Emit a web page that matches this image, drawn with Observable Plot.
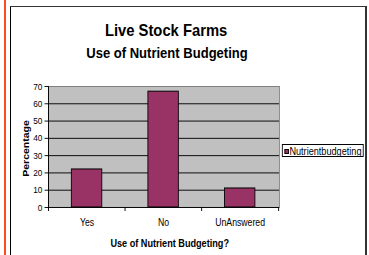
<!DOCTYPE html>
<html>
<head>
<meta charset="utf-8">
<script src="https://cdn.jsdelivr.net/npm/d3@7"></script>
<script src="https://cdn.jsdelivr.net/npm/@observablehq/plot@0.6"></script>
<style>
  html, body { margin: 0; padding: 0; background: #fff; }
  #page { position: relative; width: 369px; height: 255px; overflow: hidden; font-family: "Liberation Sans", Arial, sans-serif; }
  .deco { position: absolute; }
  #chart { position: absolute; left: 0; top: 0; transform-origin: 0 0; }
  #legend { position: absolute; box-sizing: border-box; border: 1px solid #000; background: #fff; font-size: 10.5px; line-height: 11px; color: #000; white-space: nowrap; }
  #legend .sw { position: absolute; width: 5.5px; height: 5px; box-sizing: border-box; border: 1px solid #000; }
  #legend .lb { position: absolute; }
</style>
</head>
<body>
<div id="page">
  <div class="deco" style="left:4px;top:0;width:2px;height:255px;background:#ff4b1f;"></div>
  <div class="deco" style="left:10px;top:6px;width:1px;height:249px;background:#000;"></div>
  <div class="deco" style="left:10px;top:6px;width:357px;height:1px;background:#333;"></div>
  <div class="deco" style="left:365px;top:6px;width:2px;height:249px;background:#333;"></div>
  <div id="chart"></div>
</div>
<script>
// ---- data ----
const categories = ["Yes", "No", "UnAnswered"];
const values = [22, 67, 11];
const seriesName = "Nutrientbudgeting";
const yTicks = [0, 10, 20, 30, 40, 50, 60, 70];
const title = "Live Stock Farms";
const subtitle = "Use of Nutrient Budgeting";
const xLabel = "Use of Nutrient Budgeting?";
const yLabel = "Percentage";
const barColor = "#993366";

// ---- layout (the reference is horizontally condensed) ----
const sx = 0.87;
const W = 369 / sx;
const mL = 48 / sx, mR = W - 279 / sx, mT = 86, mB = 255 - 207;
const step = (W - mL - mR) / categories.length;

const data = categories.map((c, i) => ({category: c, value: values[i]}));

const font = '"Liberation Sans", Arial, sans-serif';

const plot = Plot.plot({
  width: W,
  height: 255,
  marginLeft: mL,
  marginRight: mR,
  marginTop: mT,
  marginBottom: mB,
  style: {fontFamily: font, fontSize: "9.5px", color: "#000", background: "transparent", overflow: "visible"},
  x: {domain: categories, paddingInner: 0.6, paddingOuter: 0.3, label: null},
  y: {domain: [0, 70], label: null},
  marks: [
    Plot.frame({fill: "#c0c0c0", stroke: "#808080"}),
    Plot.gridY(yTicks.filter(d => d > 0 && d < 70), {stroke: "#000", strokeOpacity: 1}),
    Plot.barY(data, {x: "category", y: "value", fill: barColor, stroke: "#000", strokeWidth: 1}),
    Plot.ruleY([0], {stroke: "#000"}),
    // left axis line
    Plot.ruleX(categories.slice(0, 1), {x: d => d, dx: -step / 2, stroke: "#000"}),
    // category boundary ticks below the axis
    Plot.ruleX(categories, {x: d => d, dx: -step / 2, y1: 0, y2: 0, insetBottom: -4, stroke: "#000"}),
    Plot.ruleX(categories.slice(-1), {x: d => d, dx: step / 2, y1: 0, y2: 0, insetBottom: -4, stroke: "#000"}),
    Plot.axisY(yTicks, {tickSize: 4, tickPadding: 3, fontSize: "9.5px", stroke: "#000", label: null}),
    Plot.axisX({tickSize: 0, tickPadding: 11, fontSize: "10px", label: null}),
    Plot.text([title], {text: d => d, frameAnchor: "top", lineAnchor: "middle", textAnchor: "middle", dx: 2.5, dy: -56.4, fontSize: "17px", fontWeight: "bold", fill: "#000"}),
    Plot.text([subtitle], {text: d => d, frameAnchor: "top", lineAnchor: "middle", textAnchor: "middle", dx: 3.5, dy: -33.5, fontSize: "15px", fontWeight: "bold", fill: "#000"}),
    Plot.text([xLabel], {text: d => d, frameAnchor: "bottom", lineAnchor: "middle", textAnchor: "middle", dx: 6.6, dy: 36, fontSize: "10.5px", fontWeight: "bold", fill: "#000"}),
    Plot.text([yLabel], {text: d => d, frameAnchor: "left", lineAnchor: "middle", textAnchor: "middle", rotate: -90, dx: -26, dy: 1.5, fontSize: "10.5px", fontWeight: "bold", fill: "#000"})
  ]
});

const chart = document.getElementById("chart");
chart.style.width = W + "px";
chart.style.transform = `scaleX(${sx})`;
chart.appendChild(plot);

// legend (HTML, in the same condensed space)
const lg = document.createElement("div");
lg.id = "legend";
lg.style.left = (282 / sx) + "px";
lg.style.top = "144px";
lg.style.width = ((363.5 - 282) / sx) + "px";
lg.style.height = "13px";
const sw = document.createElement("div");
sw.className = "sw";
sw.style.left = "1.5px";
sw.style.top = "3.5px";
sw.style.background = barColor;
const lb = document.createElement("div");
lb.className = "lb";
lb.style.left = "7.5px";
lb.style.top = "0.5px";
lb.textContent = seriesName;
lg.appendChild(sw);
lg.appendChild(lb);
chart.appendChild(lg);
</script>
</body>
</html>
